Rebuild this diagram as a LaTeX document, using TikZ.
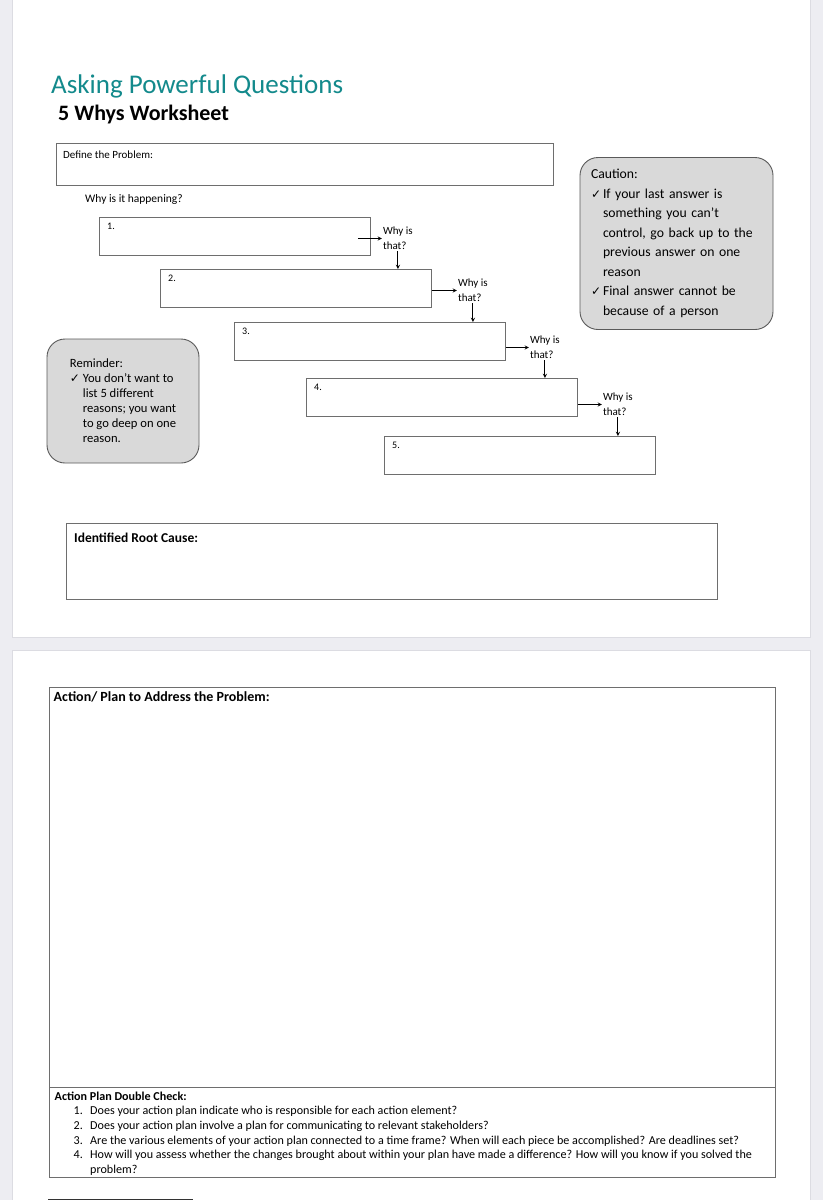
\documentclass[tikz,border=0pt]{standalone}
\usepackage{fontspec}
\setmainfont{Carlito}
\newfontfamily\symfont{DejaVu Sans}
\usepackage{tikz}
\usetikzlibrary{positioning}
\definecolor{ScreenGrey}{HTML}{EDEDF2}
\definecolor{PageEdge}{HTML}{DCDCE2}
\definecolor{TealHead}{HTML}{138A8C}
\definecolor{BoxLine}{HTML}{6E6E6E}
\definecolor{NoteFill}{HTML}{D9D9D9}
\definecolor{NoteLine}{HTML}{5A5A5A}
\newcommand{\fs}[2]{\fontsize{#1}{#2}\selectfont}
\newcommand{\chk}[1][12pt]{\makebox[#1][l]{\symfont\fontsize{12}{12}\selectfont ✓}}

\begin{document}
\begin{tikzpicture}[
    x=1pt, y=-1pt,
    font=\fs{11}{13},
    page/.style={fill=white, draw=PageEdge, line width=0.8pt},
    field/.style={rectangle, draw=BoxLine, line width=0.9pt, anchor=north west, inner sep=0pt},
    whybox/.style={field, minimum width=271pt, minimum height=38pt},
    note/.style={rectangle, draw=NoteLine, fill=NoteFill, rounded corners=18pt, line width=0.9pt, align=left, inner sep=0pt},
    numlbl/.style={inner sep=0pt, font=\fs{10}{12}},
    fieldlbl/.style={inner sep=0pt},
    why/.style={inner sep=1pt, align=left, font=\fs{11}{15.5}},
    link/.style={->, >=stealth, line width=0.9pt, black}
  ]
    \useasboundingbox (0,0) rectangle (823,1200);

    % Screen and pages
    \fill [ScreenGrey] (0,0) rectangle (823,1200);
    \draw [page] (12,-2) rectangle (810,637);
    \draw [page] (12,650) rectangle (810,1210);

    % Headings
    \node (title) [anchor=base west, inner sep=0pt, TealHead, font=\fs{27}{30}] at (51,93) {Asking Powerful Questions};
    \node (subtitle) [anchor=base west, inner sep=0pt, font=\bfseries\fs{22}{24}] at (58,120.5) {5 Whys Worksheet};

    % Problem
    \node (problem) [field, minimum width=497pt, minimum height=42pt] at (56,143) {};
    \node (problbl) [fieldlbl, below right=8pt and 7pt of problem.north west] {Define the Problem:};
    \node (happen) [fieldlbl, font=\fs{11.5}{14}, below right=8.5pt and 29pt of problem.south west] {Why is it happening?};

    % Whys
    \node (w1) [whybox] at (99,217) {};
    \node (w2) [whybox] at (160,269) {};
    \node (w3) [whybox] at (234,322) {};
    \node (w4) [whybox] at (306,378) {};
    \node (w5) [whybox] at (384,436) {};
    \node (n1) [numlbl, below right=6pt and 8pt of w1.north west] {1.};
    \node (n2) [numlbl, below right=6pt and 8pt of w2.north west] {2.};
    \node (n3) [numlbl, below right=6pt and 8pt of w3.north west] {3.};
    \node (n4) [numlbl, below right=6pt and 8pt of w4.north west] {4.};
    \node (n5) [numlbl, below right=6pt and 8pt of w5.north west] {5.};

    \node (q1) [why, right=11pt of w1, yshift=-2pt] {Why is\\that?};
    \node (q2) [why, right=25pt of w2, yshift=-2pt] {Why is\\that?};
    \node (q3) [why, right=23pt of w3, yshift=-6pt] {Why is\\that?};
    \node (q4) [why, right=24pt of w4, yshift=-7pt] {Why is\\that?};

    % Arrows
    \draw [link] (w1.east |- q1.west) ++(-13pt,0) -- (q1.west);
    \draw [link] (w2.east |- q2.west) -- (q2.west);
    \draw [link] (w3.east |- q3.west) -- (q3.west);
    \draw [link] (w4.east |- q4.west) -- (q4.west);
    \draw [link] (q1.south) -- (q1.south |- w2.north);
    \draw [link] (q2.south) -- (q2.south |- w3.north);
    \draw [link] (q3.south) -- (q3.south |- w4.north);
    \draw [link] (q4.south) -- (q4.south |- w5.north);

    % Notes
    \node (caution) [note, minimum width=193pt, minimum height=172pt, text width=171pt, font=\fs{13.7}{19.5}] at (676.5,243.5) {Caution:\\
      \chk If your last answer is\\
      \hspace*{12pt}something you can’t\\
      \hspace*{12pt}control, go back up to the\\
      \hspace*{12pt}previous answer on one\\
      \hspace*{12pt}reason\\
      \chk Final answer cannot be\\
      \hspace*{12pt}because of a person};
    \node (reminder) [note, minimum width=152pt, minimum height=124pt, font=\fs{12.6}{15}] at (123,401) {Reminder:\\
      \chk[13pt]You don’t want to\\
      \hspace*{13pt}list 5 different\\
      \hspace*{13pt}reasons; you want\\
      \hspace*{13pt}to go deep on one\\
      \hspace*{13pt}reason.};

    % Root cause
    \node (root) [field, minimum width=651pt, minimum height=76pt] at (66,523) {};
    \node (rootlbl) [fieldlbl, font=\bfseries\fs{13.5}{16}, below right=9.5pt and 8pt of root.north west] {Identified Root Cause:};

    % Action plan
    \node (plan) [field, minimum width=726pt, minimum height=400.5pt] at (48.5,686.5) {};
    \node (planlbl) [fieldlbl, font=\bfseries\fs{14}{16}, below right=5pt and 5pt of plan.north west] {Action/ Plan to Address the Problem:};
    \node (check) [field, minimum width=726pt, minimum height=89.5pt] at (48.5,1087) {};
    \node (checklist) [fieldlbl, align=left, font=\fs{12.1}{14.6}, below right=4.5pt and 6pt of check.north west] {\textbf{Action Plan Double Check:}\\
      \hspace*{19pt}\makebox[16.5pt][l]{1.}Does your action plan indicate who is responsible for each action element?\\
      \hspace*{19pt}\makebox[16.5pt][l]{2.}Does your action plan involve a plan for communicating to relevant stakeholders?\\
      \hspace*{19pt}\makebox[16.5pt][l]{3.}Are the various elements of your action plan connected to a time frame? When will each piece be accomplished? Are deadlines set?\\
      \hspace*{19pt}\makebox[16.5pt][l]{4.}How will you assess whether the changes brought about within your plan have made a difference? How will you know if you solved the\\
      \hspace*{35.5pt}problem?};

    \draw [line width=0.8pt, black!80] (48,1199) -- (193,1199);
  \end{tikzpicture}
\end{document}
